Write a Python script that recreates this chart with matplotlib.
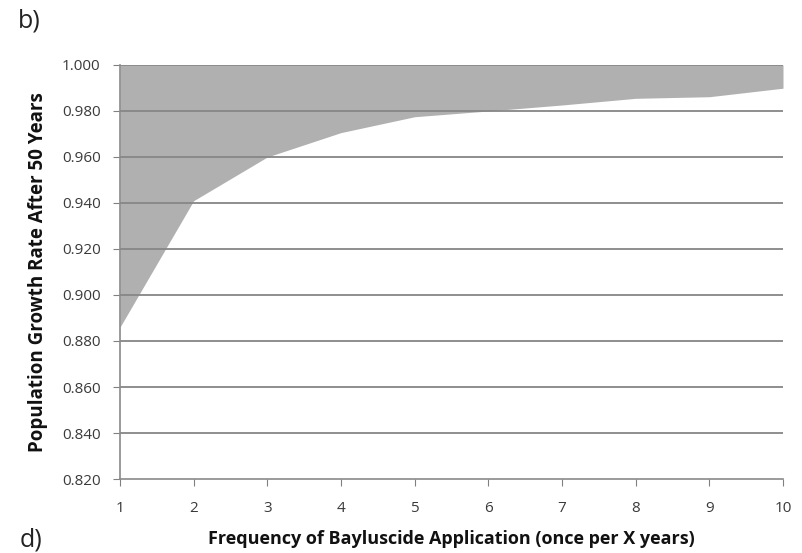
import matplotlib.pyplot as plt

freq = [1, 2, 3, 4, 5, 6, 7, 8, 9, 10]
growth = [0.886, 0.941, 0.960, 0.9706, 0.9775, 0.980, 0.9826, 0.9855, 0.9862, 0.9899]
yticks = [0.82 + 0.02 * i for i in range(10)]

plt.rcParams['font.family'] = ['Open Sans', 'DejaVu Sans']

fig = plt.figure(figsize=(8.03, 5.53), dpi=100)
ax = fig.add_axes([0.1494, 0.1338, 0.8257, 0.7487])

# area between curve and 1.0
ax.fill_between(freq, growth, 1.0, color='#b0b0b0', lw=0, zorder=1)

for y in yticks[1:]:
    ax.axhline(y, color='#868686', lw=1.3, zorder=2)

ax.set_xlim(1, 10)
ax.set_ylim(0.82, 1.0)
ax.set_xticks(freq)
ax.set_yticks(yticks)
ax.set_yticklabels(['%.3f' % v for v in yticks])
ax.tick_params(axis='both', labelsize=11, colors='#808080', labelcolor='#3a3a3a',
               direction='out', length=5)
ax.tick_params(axis='x', pad=11)
ax.tick_params(axis='y', pad=9)

for s in ['top', 'right']:
    ax.spines[s].set_visible(False)
ax.spines['left'].set_color('#8a8a8a')
ax.spines['bottom'].set_color('#8a8a8a')
ax.spines['left'].set_linewidth(1.2)
ax.spines['bottom'].set_linewidth(1.2)

ax.set_xlabel('Frequency of Bayluscide Application (once per X years)',
              fontsize=13, fontweight='bold', labelpad=10, color='#111111')
ax.set_ylabel('Population Growth Rate After 50 Years',
              fontsize=13.5, fontweight='bold', labelpad=10, color='#111111')

fig.text(0.022, 0.962, 'b)', fontsize=18, color='#222222', va='center')
fig.text(0.024, 0.023, 'd)', fontsize=18, color='#222222', va='center')

fig.savefig('out.png', dpi=100)
